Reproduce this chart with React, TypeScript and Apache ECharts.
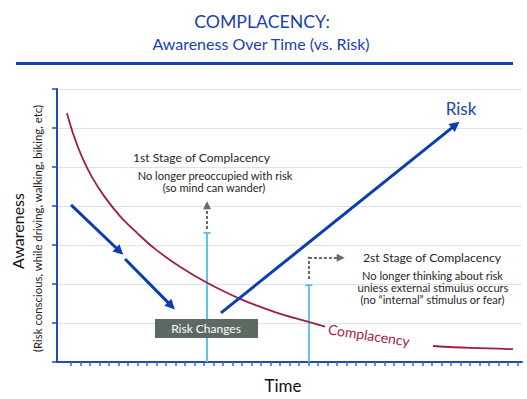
import React, { useEffect, useRef } from "react";
import * as echarts from "echarts";

// Time ticks (category boundaries shown as minor ticks)
const timeSteps = [
  "t1","t2","t3","t4","t5","t6","t7","t8","t9","t10","t11","t12","t13","t14","t15","t16","t17",
  "t18","t19","t20","t21","t22","t23","t24","t25","t26","t27","t28","t29","t30","t31","t32","t33",
  "t34","t35","t36","t37","t38","t39","t40","t41","t42","t43","t44","t45","t46","t47","t48","t49",
];

// Complacency curve (awareness over time), split where the label sits
const complacencyEarly: [number, number][] = [
  [1.05, 6.38], [1.79, 5.79], [2.63, 5.26], [3.69, 4.74], [4.95, 4.26], [6.64, 3.74],
  [8.43, 3.31], [10.33, 2.9], [12.96, 2.44], [15.81, 2.03], [19.28, 1.62], [22.97, 1.28],
  [26.34, 1.04], [28.24, 0.91],
];
const complacencyLate: [number, number][] = [
  [39.62, 0.41], [43.52, 0.36], [48.05, 0.33],
];

// Risk arrows
const riskArrows: [number, number][][] = [
  [[1.48, 4.03], [6.6, 2.84]],
  [[7.17, 2.64], [12.05, 1.44]],
  [[17.28, 1.26], [42.0, 6.08]],
];

// Stages of complacency: time and marker height
const stageTimes = [15.81, 26.55];
const stageHeights = [3.31, 1.97];

// Dashed pointers
const pointerArrows: [number, number][][] = [
  [[15.81, 3.41], [15.81, 4.02]],
  [[26.55, 2.67], [29.9, 2.67]],
];
const pointerStems: [number, number][][] = [
  [[26.55, 2.13], [26.55, 2.7]],
];

const FONT = "Lato";
const BLUE = "#1a3fae";
const AXIS_BLUE = "#1d4db3";
const RED = "#9d1e46";
const CYAN = "#5cc6dd";
const TEXT = "#262626";

export default function App() {
  const ref = useRef<HTMLDivElement>(null);
  useEffect(() => {
    if (!ref.current) return;
    const chart = echarts.init(ref.current, undefined, { renderer: "svg" });

    const txt = (
      text: string,
      x: number,
      y: number,
      size: number,
      fill: string,
      rotation = 0,
      weight: string = "normal"
    ) => ({
      type: "text",
      x,
      y,
      rotation,
      silent: true,
      style: {
        text,
        x: 0,
        y: 0,
        fill,
        fontSize: size,
        fontFamily: FONT,
        fontWeight: weight,
        align: "center",
        verticalAlign: "middle",
        textAlign: "center",
        textVerticalAlign: "middle",
      },
    });

    const stageSeries = stageTimes.map((t, i) => ({
      type: "line",
      xAxisIndex: 0,
      yAxisIndex: 0,
      data: [
        { value: [t, 0], symbol: "none" },
        { value: [t, stageHeights[i]], symbol: "rect", symbolSize: [7, 2] },
      ],
      showSymbol: true,
      showAllSymbol: true,
      lineStyle: { color: CYAN, width: 2 },
      itemStyle: { color: CYAN },
      z: 3,
    }));

    const option: any = {
      animation: false,
      grid: { left: 57, right: 5, top: 89, bottom: 37, containLabel: false },
      xAxis: [
        { type: "value", min: 0, max: 49, show: false },
        {
          type: "category",
          data: timeSteps,
          boundaryGap: true,
          position: "bottom",
          axisLine: { show: true, lineStyle: { color: AXIS_BLUE, width: 2 } },
          axisTick: {
            show: true,
            alignWithLabel: true,
            length: 4,
            interval: (i: number) => i > 0,
            lineStyle: { color: "#3f64bd", width: 1.5 },
          },
          axisLabel: { show: false },
          splitLine: { show: false },
        },
      ],
      yAxis: {
        type: "value",
        min: 0,
        max: 7,
        interval: 1,
        axisLine: { show: true, lineStyle: { color: AXIS_BLUE, width: 2 } },
        axisTick: { show: true, length: 5, lineStyle: { color: AXIS_BLUE, width: 1.5 } },
        axisLabel: { show: false },
        splitLine: { show: true, lineStyle: { color: "#e2e2e2", width: 1 } },
      },
      series: [
        ...stageSeries,
        {
          type: "line",
          data: complacencyEarly,
          smooth: 0.4,
          symbol: "none",
          lineStyle: { color: RED, width: 1.8 },
          z: 4,
        },
        {
          type: "line",
          data: complacencyLate,
          smooth: 0.4,
          symbol: "none",
          lineStyle: { color: RED, width: 1.8 },
          z: 4,
        },
        {
          type: "lines",
          coordinateSystem: "cartesian2d",
          xAxisIndex: 0,
          yAxisIndex: 0,
          symbol: ["none", "triangle"],
          symbolSize: 10,
          lineStyle: { color: "#0b3db2", width: 3, opacity: 1, curveness: 0 },
          data: riskArrows.map((c) => ({ coords: c })),
          z: 5,
        },
        {
          type: "lines",
          coordinateSystem: "cartesian2d",
          xAxisIndex: 0,
          yAxisIndex: 0,
          symbol: ["none", "triangle"],
          symbolSize: 8,
          lineStyle: { color: "#6a6a6a", width: 2, opacity: 1, type: [3, 2] },
          data: pointerArrows.map((c) => ({ coords: c })),
          z: 5,
        },
        {
          type: "lines",
          coordinateSystem: "cartesian2d",
          xAxisIndex: 0,
          yAxisIndex: 0,
          symbol: ["none", "none"],
          lineStyle: { color: "#6a6a6a", width: 2, opacity: 1, type: [3, 2] },
          data: pointerStems.map((c) => ({ coords: c })),
          z: 5,
        },
      ],
      graphic: [
        txt("COMPLACENCY:", 262, 21.5, 17.7, BLUE),
        txt("Awareness Over Time (vs. Risk)", 261, 43, 16, BLUE),
        {
          type: "rect",
          shape: { x: 16, y: 62, width: 497, height: 3 },
          style: { fill: "#1440b0" },
          silent: true,
        },
        txt("Risk", 461, 108, 17, "#1746b0"),
        txt("Awareness", 17, 231, 16, "#111", Math.PI / 2),
        txt("(Risk conscious, while driving, walking, biking, etc)", 37, 228.5, 11.4, "#222", Math.PI / 2),
        txt("Time", 283, 385, 17, "#111"),
        txt("1st Stage of Complacency", 201.5, 157, 12.1, TEXT),
        txt("No longer preoccupied with risk", 215, 175, 11.1, TEXT),
        txt("(so mind can wander)", 214, 187, 11.1, TEXT),
        txt("2st Stage of Complacency", 432, 257, 12.2, TEXT),
        txt("No longer thinking about risk", 432.5, 275, 11.1, TEXT),
        txt("unless external stimulus occurs", 433, 287, 11.1, TEXT),
        txt("(no \u201cinternal\u201d stimulus or fear)", 432.5, 299, 11.1, TEXT),
        {
          type: "rect",
          shape: { x: 155, y: 319, width: 103, height: 19 },
          style: { fill: "#5d6a64" },
          z: 10,
          silent: true,
        },
        { ...txt("Risk Changes", 206, 328.5, 12, "#ffffff"), z: 11 },
        txt("Complacency", 369, 335, 14, "#a3214d", -0.15),
      ],
    };

    chart.setOption(option);
    return () => chart.dispose();
  }, []);

  return (
    <div
      ref={ref}
      style={{ position: "fixed", left: 0, top: 0, width: 527, height: 399, background: "#fff" }}
    />
  );
}
